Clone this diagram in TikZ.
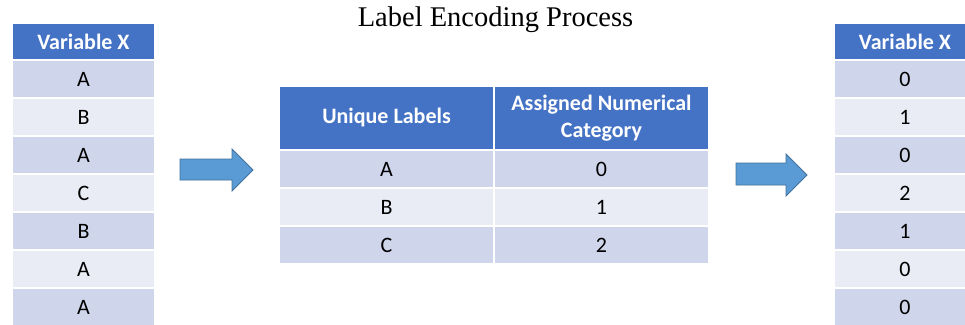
\documentclass[tikz,border=0pt]{standalone}
\usepackage{fontspec}
\setmainfont{Liberation Serif}
\newfontfamily\cellfont{Carlito}
\definecolor{hdr}{HTML}{4472C4}
\definecolor{rowA}{HTML}{CFD5EA}
\definecolor{rowB}{HTML}{E9EBF5}
\definecolor{arrfill}{HTML}{5B9BD5}
\definecolor{arrline}{HTML}{41719C}
\tikzset{
  cell/.style={draw=white, line width=2pt, anchor=north west, inner sep=0pt,
    font=\cellfont\fontsize{22}{26}\selectfont, text=black, align=center},
  hcell/.style={cell, fill=hdr, text=white, font=\cellfont\bfseries\fontsize{22}{27}\selectfont},
  oddrow/.style={cell, fill=rowA},
  evenrow/.style={cell, fill=rowB},
  blockarrow/.style={fill=arrfill, draw=arrline, line width=0.8pt, line join=miter},
}
\begin{document}
\begin{tikzpicture}[x=1pt,y=-1pt]
\useasboundingbox (0,0) rectangle (965,324);
\clip (0,0) rectangle (965,324);
\node[font=\fontsize{28.5}{30}\selectfont] (title) at (495.5,20) {Label Encoding Process};
% left table
\node[hcell, minimum width=143pt, minimum height=37pt] (lh) at (11,22) {Variable X};
\foreach \v [count=\i] in {A,B,A,C,B,A,A}{
  \pgfmathsetmacro{\yy}{59+38*(\i-1)}
  \ifodd\i
    \node[oddrow, minimum width=143pt, minimum height=38pt] (l\i) at (11,\yy) {\v};
  \else
    \node[evenrow, minimum width=143pt, minimum height=38pt] (l\i) at (11,\yy) {\v};
  \fi
}
% right table
\node[hcell, minimum width=142pt, minimum height=37pt] (rh) at (833,22) {Variable X};
\foreach \v [count=\i] in {0,1,0,2,1,0,0}{
  \pgfmathsetmacro{\yy}{59+38*(\i-1)}
  \ifodd\i
    \node[oddrow, minimum width=142pt, minimum height=38pt] (r\i) at (833,\yy) {\v};
  \else
    \node[evenrow, minimum width=142pt, minimum height=38pt] (r\i) at (833,\yy) {\v};
  \fi
}
% middle table
\node[hcell, minimum width=215pt, minimum height=64pt] (mh1) at (278,85) {Unique Labels};
\node[hcell, minimum width=215pt, minimum height=64pt] (mh2) at (493,85) {Assigned Numerical\\Category};
\node[oddrow, minimum width=215pt, minimum height=38pt] (ma1) at (278,149) {A};
\node[oddrow, minimum width=215pt, minimum height=38pt] (mb1) at (493,149) {0};
\node[evenrow, minimum width=215pt, minimum height=38pt] (ma2) at (278,187) {B};
\node[evenrow, minimum width=215pt, minimum height=38pt] (mb2) at (493,187) {1};
\node[oddrow, minimum width=215pt, minimum height=38pt] (ma3) at (278,225) {C};
\node[oddrow, minimum width=215pt, minimum height=38pt] (mb3) at (493,225) {2};
% block arrows
\draw[blockarrow] (180,159) -- (232,159) -- (232,149) -- (253,170) -- (232,191) -- (232,180) -- (180,180) -- cycle;
\draw[blockarrow] (736,163) -- (786,163) -- (786,154) -- (807,175) -- (786,196) -- (786,185) -- (736,185) -- cycle;
\end{tikzpicture}
\end{document}
